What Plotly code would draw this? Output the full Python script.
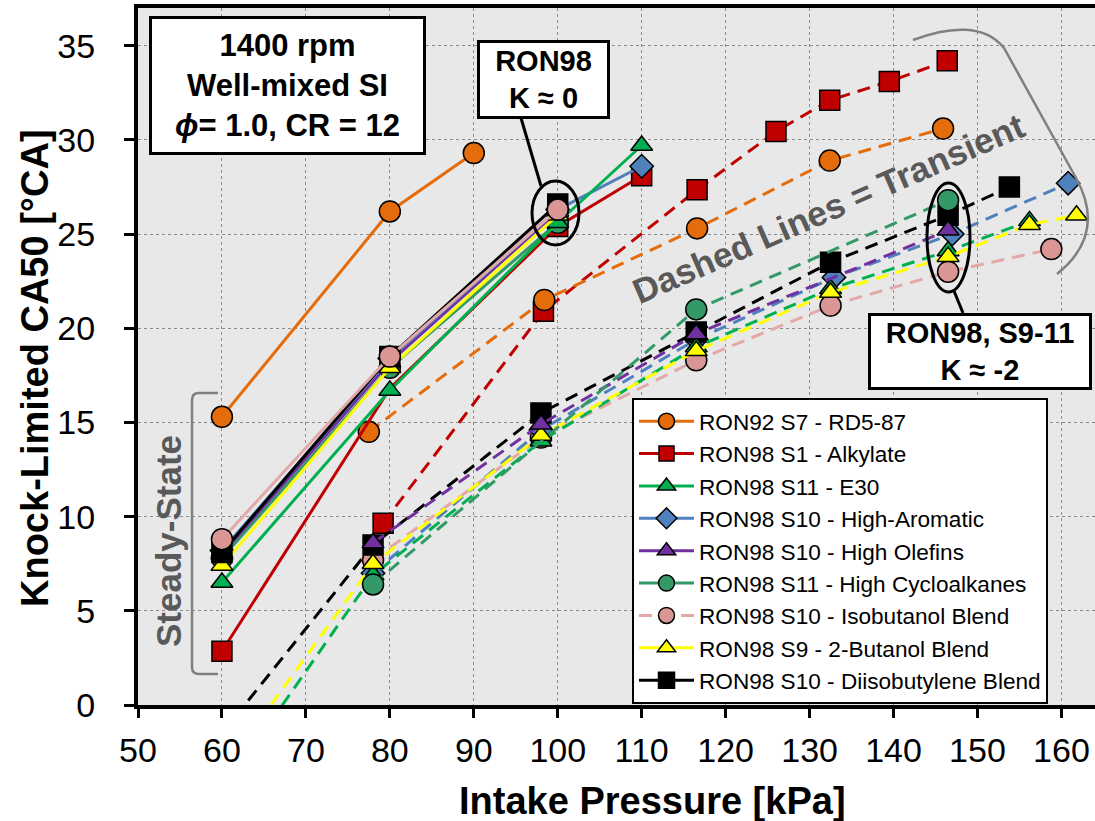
import plotly.graph_objects as go

# ---------------- data ----------------
NAMES = ["RON92 S7 - RD5-87", "RON98 S1 - Alkylate", "RON98 S11 - E30",
         "RON98 S10 - High-Aromatic", "RON98 S10 - High Olefins",
         "RON98 S11 - High Cycloalkanes", "RON98 S10 - Isobutanol Blend",
         "RON98 S9 - 2-Butanol Blend", "RON98 S10 - Diisobutylene Blend"]

# steady-state (solid lines)
RD587_SS_X = [60, 80, 90]
RD587_SS_Y = [15.3, 26.2, 29.3]
ALKY_SS_X = [60, 80, 100, 110]
ALKY_SS_Y = [2.85, 16.8, 25.4, 28.1]
E30_SS_X = [60, 80, 100, 110]
E30_SS_Y = [6.5, 16.7, 25.6, 29.7]
AROM_SS_X = [60, 80, 100, 110]
AROM_SS_Y = [8.2, 18.4, 26.3, 28.6]
OLEF_SS_X = [60, 80, 100]
OLEF_SS_Y = [8.0, 18.2, 26.2]
CYCL_SS_X = [60, 80, 100]
CYCL_SS_Y = [7.8, 17.9, 25.6]
IBUT_SS_X = [60, 80, 100]
IBUT_SS_Y = [8.8, 18.5, 26.3]
BUT2_SS_X = [60, 80, 100]
BUT2_SS_Y = [7.4, 17.9, 26.0]
DIIB_SS_X = [60, 80, 100]
DIIB_SS_Y = [8.1, 18.5, 26.6]

# transient (dashed lines)
RD587_TR_X = [77.5, 98.4, 116.6, 132.4, 145.9]
RD587_TR_Y = [14.5, 21.5, 25.3, 28.9, 30.6]
ALKY_TR_X = [79.2, 98.3, 116.6, 126.0, 132.4, 139.5, 146.4]
ALKY_TR_Y = [9.65, 20.9, 27.35, 30.45, 32.1, 33.1, 34.2]
E30_TR_X = [60, 78, 98, 116.5, 132.5, 146.5, 156.2]
E30_TR_Y = [-4.6, 6.9, 14.0, 19.0, 22.1, 24.1, 25.7]
AROM_TR_X = [78, 98, 116.5, 132.9, 147.0, 160.8]
AROM_TR_Y = [7.0, 14.6, 19.4, 22.7, 25.0, 27.7]
OLEF_TR_X = [78, 98, 116.5, 146.5]
OLEF_TR_Y = [8.6, 14.9, 19.7, 25.2]
CYCL_TR_X = [78, 116.5, 146.5]
CYCL_TR_Y = [6.4, 21.0, 26.8]
IBUT_TR_X = [78, 98, 116.5, 132.5, 146.5, 158.8]
IBUT_TR_Y = [7.7, 14.2, 18.3, 21.2, 23.0, 24.2]
BUT2_TR_X = [60, 78, 98, 116.5, 132.5, 146.5, 156.2, 161.8]
BUT2_TR_Y = [-3.6, 7.5, 14.3, 18.8, 21.9, 23.8, 25.5, 26.0]
DIIB_TR_X = [60, 78, 98, 116.5, 132.5, 146.5, 153.8]
DIIB_TR_Y = [-1.5, 8.5, 15.5, 19.8, 23.5, 26.0, 27.5]

X_TICKS = [50, 60, 70, 80, 90, 100, 110, 120, 130, 140, 150, 160]
Y_TICKS = [0, 5, 10, 15, 20, 25, 30, 35]

# ---------------- styling ----------------
W, H = 1095, 821
ML, MR, MT, MB = 138, 0, 8, 116
PW, PH = W - ML - MR, H - MT - MB
FONT = "Liberation Sans, Arial, sans-serif"
DASH = "13px,8px"

STYLE = {
    "RD587": dict(color="#E46C0A", fill="#E46C0A", symbol="circle", size=21),
    "ALKY": dict(color="#C00000", fill="#C00000", symbol="square", size=20),
    "E30": dict(color="#00B050", fill="#00B050", symbol="triangle-up", size=19),
    "AROM": dict(color="#4F81BD", fill="#4F81BD", symbol="diamond", size=18),
    "OLEF": dict(color="#7030A0", fill="#7030A0", symbol="triangle-up", size=19),
    "CYCL": dict(color="#339966", fill="#339966", symbol="circle", size=21),
    "IBUT": dict(color="#E3A9A8", fill="#DA9694", symbol="circle", size=21),
    "BUT2": dict(color="#FFFF00", fill="#FFFF00", symbol="triangle-up", size=19),
    "DIIB": dict(color="#000000", fill="#000000", symbol="square", size=20),
}
# markers that are completely covered by other markers in the original
HIDDEN_MARKERS = {("ALKY", "ss", 80)}

KEYS = ["RD587", "ALKY", "E30", "AROM", "OLEF", "CYCL", "IBUT", "BUT2", "DIIB"]
SS = {"RD587": (RD587_SS_X, RD587_SS_Y), "ALKY": (ALKY_SS_X, ALKY_SS_Y),
      "E30": (E30_SS_X, E30_SS_Y), "AROM": (AROM_SS_X, AROM_SS_Y),
      "OLEF": (OLEF_SS_X, OLEF_SS_Y), "CYCL": (CYCL_SS_X, CYCL_SS_Y),
      "IBUT": (IBUT_SS_X, IBUT_SS_Y), "BUT2": (BUT2_SS_X, BUT2_SS_Y),
      "DIIB": (DIIB_SS_X, DIIB_SS_Y)}
TR = {"RD587": (RD587_TR_X, RD587_TR_Y), "ALKY": (ALKY_TR_X, ALKY_TR_Y),
      "E30": (E30_TR_X, E30_TR_Y), "AROM": (AROM_TR_X, AROM_TR_Y),
      "OLEF": (OLEF_TR_X, OLEF_TR_Y), "CYCL": (CYCL_TR_X, CYCL_TR_Y),
      "IBUT": (IBUT_TR_X, IBUT_TR_Y), "BUT2": (BUT2_TR_X, BUT2_TR_Y),
      "DIIB": (DIIB_TR_X, DIIB_TR_Y)}

TR_ORDER = ["ALKY", "RD587", "IBUT", "AROM", "DIIB", "E30", "BUT2", "OLEF", "CYCL"]
SS_ORDER = ["RD587", "ALKY", "CYCL", "OLEF", "AROM", "E30", "BUT2", "DIIB", "IBUT"]
LEGEND_FROM_TR = {"IBUT"}


def trace(key, xs, ys, dashed):
    st = STYLE[key]
    idx = KEYS.index(key)
    show = (key in LEGEND_FROM_TR) == dashed
    tag = "tr" if dashed else "ss"
    sizes = [0 if (key, tag, x) in HIDDEN_MARKERS else st["size"] for x in xs]
    return go.Scatter(
        x=xs, y=ys, mode="lines+markers", name=NAMES[idx],
        showlegend=show, legendrank=idx + 1,
        line=dict(color=st["color"], width=3, dash=DASH if dashed else "solid"),
        marker=dict(symbol=st["symbol"], size=sizes, color=st["fill"], opacity=1,
                    line=dict(color="black", width=1.5)),
        cliponaxis=True,
    )


fig = go.Figure()
for k in TR_ORDER:
    fig.add_trace(trace(k, *TR[k], dashed=True))
for k in SS_ORDER:
    fig.add_trace(trace(k, *SS[k], dashed=False))


def P(x, y):
    """pixel -> paper coordinates"""
    return (x - ML) / PW, (H - MB - y) / PH


def box_ann(text, x0, y0, x1, y1, size):
    cx, cy = P((x0 + x1) / 2, (y0 + y1) / 2)
    return dict(text=text, xref="paper", yref="paper", x=cx, y=cy,
                xanchor="center", yanchor="middle", showarrow=False,
                width=(x1 - x0) - 6, height=(y1 - y0) - 6, borderpad=0,
                bordercolor="black", borderwidth=3, bgcolor="white",
                align="center", valign="middle",
                font=dict(family=FONT, size=size, color="black"))


def free_ann(text, x, y, size, color="black", angle=0):
    cx, cy = P(x, y)
    return dict(text=text, xref="paper", yref="paper", x=cx, y=cy,
                xanchor="center", yanchor="middle", showarrow=False,
                textangle=angle, font=dict(family=FONT, size=size, color=color))


annotations = [
    box_ann("<b>1400 rpm</b><br><b>Well-mixed SI</b><br><b><i>ϕ</i>= 1.0, CR = 12</b>",
            149, 16, 426, 155, 31),
    box_ann("<b>RON98</b><br><b>K ≈ 0</b>", 477, 40, 610, 119, 29),
    box_ann("<b>RON98, S9-11</b><br><b>K ≈ -2</b>", 868, 313, 1092, 390, 29),
    free_ann("<b>Dashed Lines = Transient</b>", 828, 209, 35, "#595959", -23.6),
    free_ann("<b>Steady-State</b>", 168, 541, 35, "#595959", -90),
    free_ann("<b>Intake Pressure [kPa]</b>", 652, 801, 38),
    free_ann("<b>Knock-Limited CA50 [°CA]</b>", 35, 368, 38, angle=-90),
]


def line_shape(x0, y0, x1, y1, color="black", width=3):
    a, b = P(x0, y0)
    c, d = P(x1, y1)
    return dict(type="line", xref="paper", yref="paper", x0=a, y0=b, x1=c, y1=d,
                line=dict(color=color, width=width))


def ellipse(x0, y0, x1, y1):
    a, b = P(x0, y0)
    c, d = P(x1, y1)
    return dict(type="circle", xref="paper", yref="paper", x0=a, y0=d, x1=c, y1=b,
                line=dict(color="black", width=3))


def path_shape(cmds, color, width):
    parts = []
    for c in cmds:
        if isinstance(c, str):
            parts.append(c)
        else:
            a, b = P(*c)
            parts.append(f"{a:.5f},{b:.5f}")
    return dict(type="path", xref="paper", yref="paper", path=" ".join(parts),
                line=dict(color=color, width=width))


shapes = [
    ellipse(532, 181, 579, 245),
    ellipse(927, 183, 970, 292),
    line_shape(521, 118, 541, 186),
    line_shape(954, 291, 963, 313),
    path_shape(["M", (218, 393), "L", (199, 393), "Q", (192, 393), (192, 400),
                "L", (192, 667), "Q", (192, 674), (199, 674), "L", (218, 674)],
               "#7F7F7F", 2.5),
    path_shape(["M", (913, 40), "C", (950, 26), (985, 24), (1004, 48),
                "L", (1076, 178), "C", (1096, 214), (1092, 246), (1057, 274)],
               "#808080", 2.5),
]

fig.update_layout(
    width=W, height=H,
    margin=dict(l=ML, r=MR, t=MT, b=MB, pad=0),
    paper_bgcolor="white", plot_bgcolor="#E8E8E8",
    font=dict(family=FONT, color="black"),
    showlegend=True,
    legend=dict(x=P(632, 398)[0], y=P(632, 398)[1], xanchor="left", yanchor="top",
                bgcolor="white", bordercolor="black", borderwidth=2,
                font=dict(family=FONT, size=22.6, color="black"),
                traceorder="normal", itemwidth=55, tracegroupgap=0),
    annotations=annotations,
    shapes=shapes,
)
fig.update_xaxes(range=[50, 164], tickvals=X_TICKS, ticktext=[str(v) for v in X_TICKS],
                 showline=True, linecolor="black", linewidth=4, mirror=True,
                 ticks="outside", ticklen=9, tickwidth=3, tickcolor="black",
                 tickfont=dict(family=FONT, size=34, color="black"),
                 ticklabelstandoff=3,
                 showgrid=True, gridcolor="#8C8C8C", gridwidth=1, griddash="3px,3px",
                 zeroline=False)
fig.update_yaxes(range=[0, 37], tickvals=Y_TICKS, ticktext=[str(v) for v in Y_TICKS],
                 showline=True, linecolor="black", linewidth=4,
                 ticks="outside", ticklen=10, tickwidth=3, tickcolor="black",
                 tickfont=dict(family=FONT, size=34, color="black"),
                 ticklabelstandoff=22,
                 showgrid=True, gridcolor="#8C8C8C", gridwidth=1, griddash="3px,3px",
                 zeroline=False)

fig.write_html("out.html")
